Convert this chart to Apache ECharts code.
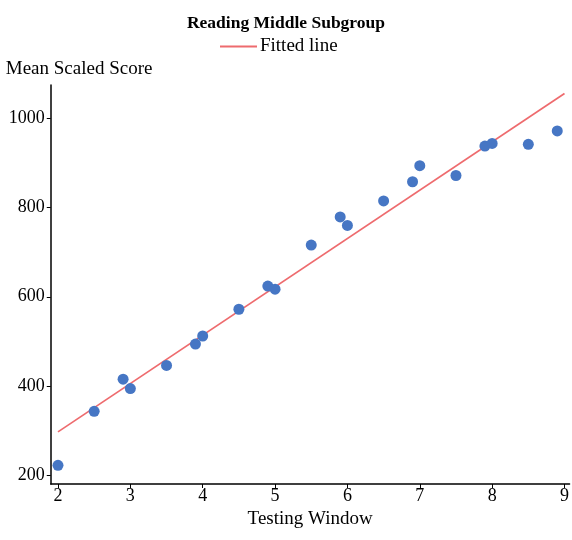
<!DOCTYPE html>
<html>
<head>
<meta charset="utf-8">
<script src="https://cdn.jsdelivr.net/npm/echarts@6/dist/echarts.min.js"></script>
<style>
  html, body { margin: 0; padding: 0; background: #fff; }
  #chart { width: 572px; height: 540px; }
</style>
</head>
<body>
<div id="chart"></div>
<script>
// Testing window of each observation
const windows = [2, 2.5, 2.9, 3, 3.5, 3.9, 4, 4.5, 4.9, 5, 5.5, 5.9, 6, 6.5, 6.9, 7, 7.5, 7.9, 8, 8.5, 8.9];
// Mean scaled score of each observation
const scores = [222, 343, 415, 394, 446, 494, 512, 572, 624, 617, 716, 779, 760, 815, 858, 894, 872, 938, 944, 942, 972];
// Fitted line end points
const fitX = [2, 9];
const fitY = [297, 1056];
const yTicks = [200, 400, 600, 800, 1000];
const xTicks = [2, 3, 4, 5, 6, 7, 8, 9];

const serif = '"Liberation Serif", "DejaVu Serif", serif';

const chart = echarts.init(document.getElementById('chart'), null, { renderer: 'canvas' });
chart.setOption({
  animation: false,
  backgroundColor: '#ffffff',
  textStyle: { fontFamily: serif },
  title: {
    text: 'Reading Middle Subgroup',
    left: 'center',
    top: 14,
    padding: 0,
    textStyle: { fontFamily: serif, fontSize: 17.5, fontWeight: 'bold', color: '#000' }
  },
  legend: {
    data: ['Fitted line'],
    left: 220,
    top: 37,
    padding: 0,
    icon: 'rect',
    itemWidth: 37,
    itemHeight: 2,
    textStyle: { fontFamily: serif, fontSize: 19, color: '#000', padding: [0, 0, 0, -2] }
  },
  grid: { left: 50.75, right: 2, top: 85, bottom: 56, containLabel: false },
  xAxis: {
    type: 'value',
    min: 1.9,
    max: 9.07,
    name: 'Testing Window',
    nameLocation: 'middle',
    nameGap: 22,
    nameTextStyle: { fontFamily: serif, fontSize: 19, color: '#000' },
    axisLine: { onZero: false, lineStyle: { color: '#000', width: 1.5 } },
    axisTick: { show: true, length: 4, lineStyle: { color: '#000' }, customValues: xTicks },
    axisLabel: { fontFamily: serif, fontSize: 18, color: '#000', margin: 3, customValues: xTicks },
    splitLine: { show: false }
  },
  yAxis: {
    type: 'value',
    min: 180,
    max: 1075,
    name: 'Mean Scaled Score',
    nameLocation: 'end',
    nameGap: 6,
    nameTextStyle: { fontFamily: serif, fontSize: 19, color: '#000', align: 'left', padding: [0, 0, 0, -45] },
    axisLine: { onZero: false, lineStyle: { color: '#000', width: 1.5 } },
    axisTick: { show: true, length: 4, lineStyle: { color: '#000' }, customValues: yTicks },
    axisLabel: {
      fontFamily: serif, fontSize: 18, color: '#000', margin: 6, customValues: yTicks,
      formatter: v => String(v)
    },
    splitLine: { show: false }
  },
  series: [
    {
      name: 'Fitted line',
      type: 'line',
      data: fitX.map((x, i) => [x, fitY[i]]),
      showSymbol: false,
      symbol: 'none',
      lineStyle: { color: '#ee6b6e', width: 1.7 },
      itemStyle: { color: '#ee6b6e' },
      z: 2
    },
    {
      name: 'Scores',
      type: 'scatter',
      data: windows.map((x, i) => [x, scores[i]]),
      symbolSize: 11,
      itemStyle: { color: '#4676c4', opacity: 1 },
      z: 3
    }
  ]
});
</script>
</body>
</html>
